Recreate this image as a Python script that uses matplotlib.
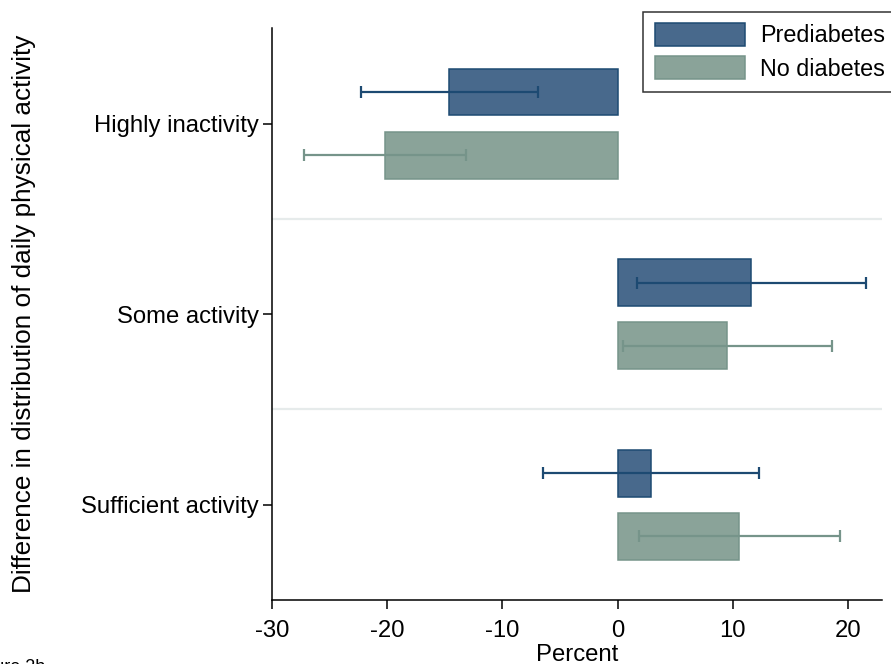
import matplotlib
matplotlib.use('Agg')
import matplotlib.pyplot as plt

plt.rcParams['font.family'] = ['Liberation Sans', 'DejaVu Sans']

# Data
categories = ['Highly inactivity', 'Some activity', 'Sufficient activity']
series = ['Prediabetes', 'No diabetes']

prediabetes = [-14.6, 11.6, 2.9]
prediabetes_lo = [-22.3, 1.7, -6.5]
prediabetes_hi = [-6.9, 21.6, 12.3]

no_diabetes = [-20.2, 9.5, 10.5]
no_diabetes_lo = [-27.2, 0.5, 1.9]
no_diabetes_hi = [-13.2, 18.6, 19.3]

xticks = [-30, -20, -10, 0, 10, 20]

# Colours
pre_fill, pre_edge = '#48698c', '#1d4a72'
nod_fill, nod_edge = '#8aa399', '#76948a'

fs = 17.2

fig = plt.figure(figsize=(8.91, 6.64), dpi=100)
ax = fig.add_axes([272 / 891, 64 / 664, 610 / 891, 571.7 / 664])

ypos = list(range(len(categories)))
off = 0.166
h = 0.246

# Bars
ax.barh([y - off for y in ypos], prediabetes, height=h, color=pre_fill,
        edgecolor=pre_edge, linewidth=1.1, label=series[0], zorder=2)
ax.barh([y + off for y in ypos], no_diabetes, height=h, color=nod_fill,
        edgecolor=nod_edge, linewidth=1.1, label=series[1], zorder=2)

# Confidence intervals
for vals, lo, hi, yo, col in [(prediabetes, prediabetes_lo, prediabetes_hi, -off, pre_edge),
                              (no_diabetes, no_diabetes_lo, no_diabetes_hi, off, nod_edge)]:
    err = [[v - l for v, l in zip(vals, lo)], [u - v for v, u in zip(vals, hi)]]
    ax.errorbar(vals, [y + yo for y in ypos], xerr=err, fmt='none', ecolor=col,
                elinewidth=1.6, capsize=4.3, capthick=1.6, zorder=3)

# Group separators
for y in ypos[:-1]:
    ax.axhline(y + 0.5, color='#e6ebeb', linewidth=1.6, zorder=1)

ax.set_xlim(-30, 22.95)
ax.set_ylim(2.5, -0.5)
ax.set_xticks(xticks)
ax.set_xticklabels([str(t) for t in xticks])
ax.set_yticks(ypos)
ax.set_yticklabels(categories)

for side in ['top', 'right']:
    ax.spines[side].set_visible(False)
for side in ['left', 'bottom']:
    ax.spines[side].set_linewidth(1.1)
ax.tick_params(axis='both', labelsize=fs, length=6.5, width=1.1, direction='out')
ax.tick_params(axis='x', pad=8)
ax.tick_params(axis='y', pad=3)

ax.set_xlabel('Percent', fontsize=fs, labelpad=1)
ax.set_ylabel('Difference in distribution of daily physical activity', fontsize=18.8)
ax.yaxis.set_label_coords(-0.387, 0.5)

leg = ax.legend(loc='upper left', bbox_to_anchor=(643 / 891, 1 - 11.7 / 664),
                bbox_transform=fig.transFigure, fontsize=16.8, frameon=True, fancybox=False,
                borderaxespad=0, borderpad=0.5, handlelength=3.85, handleheight=1.1,
                handletextpad=0.65, labelspacing=0.38)
leg.get_frame().set_edgecolor('black')
leg.get_frame().set_linewidth(1.1)

# Clipped caption at the bottom edge
fig.text(45 / 891, 1 - 659 / 664, 'Figure 2b', fontsize=13, ha='right', va='top')

fig.savefig('out.png', dpi=100)
